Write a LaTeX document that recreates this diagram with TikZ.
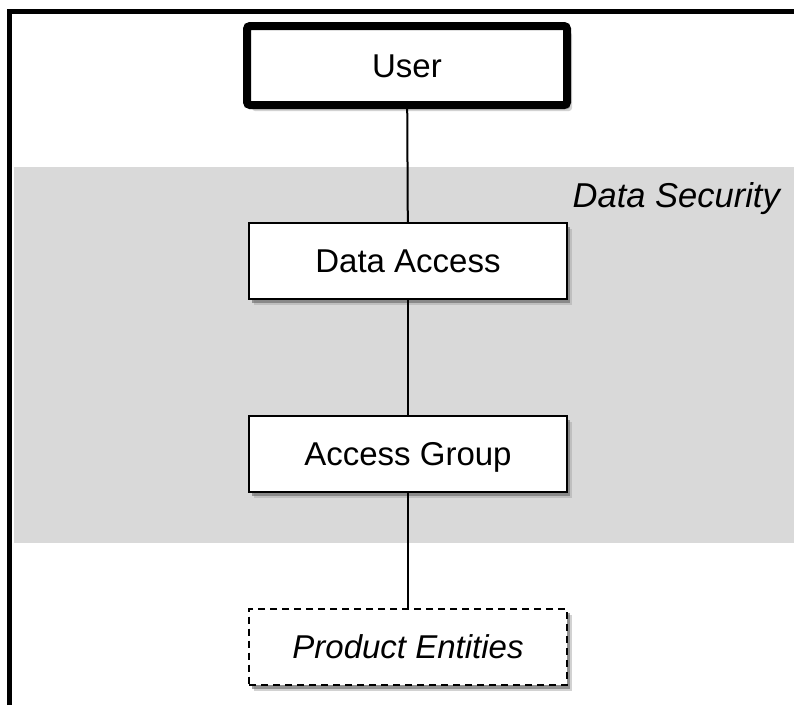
\documentclass[tikz,border=0pt]{standalone}
\usepackage{fontspec}
\setmainfont{Liberation Sans}
\usetikzlibrary{shadows}
\begin{document}
\begin{tikzpicture}[
            x=1pt, y=-1pt,
            box/.style={rectangle, draw, fill=white, line width=2pt, minimum width=318pt, minimum height=76pt, inner sep=0pt, text height=23pt, text depth=0pt, font=\fontsize{33}{38}\selectfont,
                drop shadow={shadow xshift=5pt, shadow yshift=-6pt, fill=black!35, opacity=0.5},
                drop shadow={shadow xshift=3pt, shadow yshift=-4pt, fill=black!60, opacity=0.6}},
            userbox/.style={box, line width=8pt, rounded corners=3pt, minimum width=320pt, minimum height=79pt},
            extbox/.style={box, dash pattern=on 7pt off 5pt, font=\fontsize{33}{38}\selectfont\itshape},
            link/.style={draw, line width=2pt}
        ]
        \useasboundingbox (0,0) rectangle (794,705);

        % Data security band
        \fill[black!15] (14,167) rectangle (794,543);
        \node[anchor=base east, font=\fontsize{34.5}{40}\selectfont\itshape, inner sep=0pt] (dsec) at (780,207) {Data Security};

        % Frame
        \draw[line width=5.5pt] (9.5,705) -- (9.5,11.5) -- (794,11.5);

        % Boxes
        \node[userbox] (user) at (407,65.5) {User};
        \node[box] (dacc) at (408,261) {Data Access};
        \node[box] (agrp) at (408,454) {Access Group};
        \node[extbox] (prod) at (408,646.5) {Product Entities};

        % Links
        \path[link] (user) -- (dacc);
        \path[link] (dacc) -- (agrp);
        \path[link] (agrp) -- (prod);
        \end{tikzpicture}
\end{document}
